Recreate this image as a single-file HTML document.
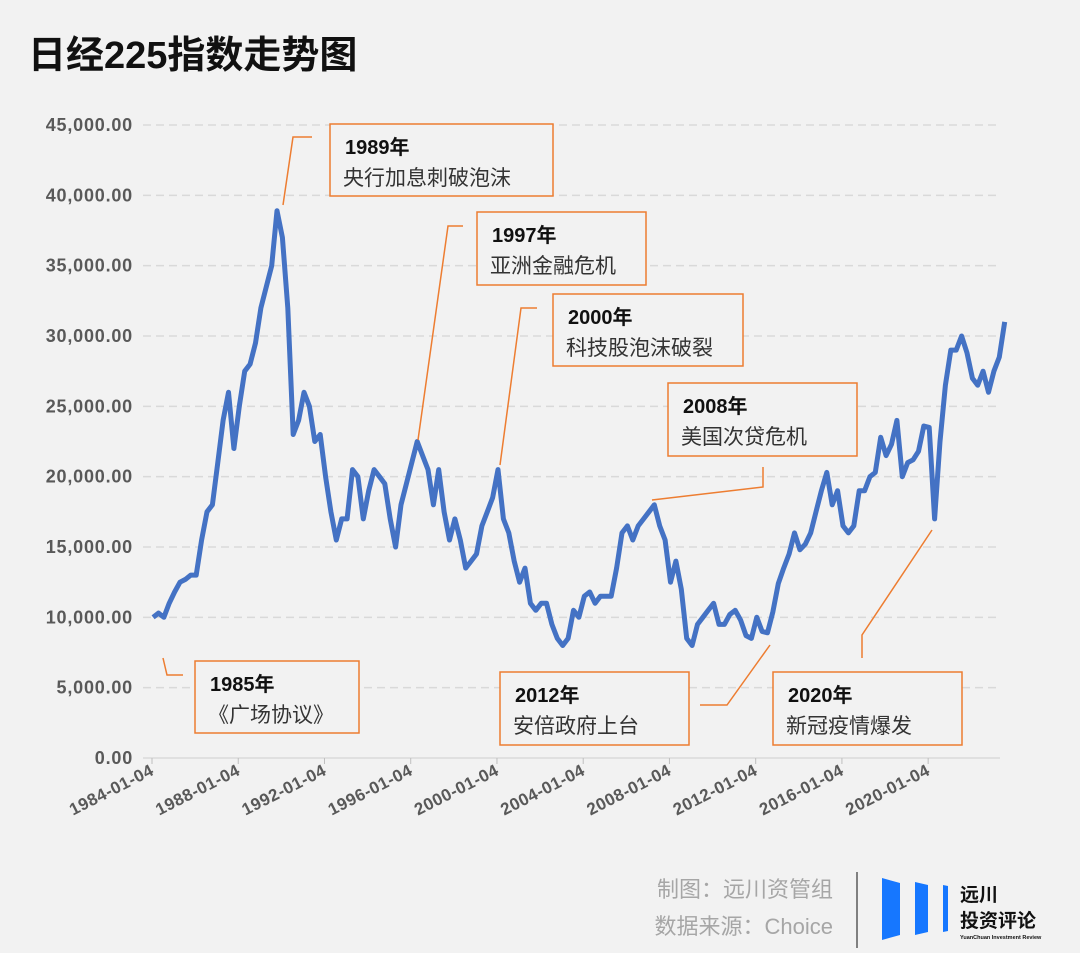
<!DOCTYPE html>
<html><head><meta charset="utf-8">
<style>
body{margin:0;background:#f2f2f2;}
#wrap{position:relative;width:1080px;height:953px;background:#f2f2f2;overflow:hidden;font-family:"Liberation Sans","Noto Sans CJK SC",sans-serif;}
#title{position:absolute;left:28px;top:24px;font-size:38px;font-weight:bold;color:#111;letter-spacing:0px;}
.src{position:absolute;right:247px;font-size:22px;color:#a6a6a6;white-space:nowrap;}
</style></head>
<body>
<div id="wrap">
<div id="title">日经225指数走势图</div>
<svg id="chart" width="1080" height="953" style="position:absolute;left:0;top:0"></svg>
<div class="src" style="top:872px">制图：远川资管组</div>
<div class="src" style="top:909px">数据来源：Choice</div>
<div style="position:absolute;left:856px;top:872px;width:2px;height:76px;background:#808080"></div>
<svg style="position:absolute;left:880px;top:875px" width="200" height="70">
<polygon points="2,3 20,8 20,60 2,65" fill="#1677ff"/>
<polygon points="35,7 48,10 48,57 35,60" fill="#1677ff"/>
<polygon points="63,10 68,11 68,56 63,57" fill="#1677ff"/>
<text x="80" y="26" font-size="19" font-weight="bold" fill="#111" font-family="Liberation Sans, Noto Sans CJK SC, sans-serif">远川</text>
<text x="80" y="52" font-size="19" font-weight="bold" fill="#111" font-family="Liberation Sans, Noto Sans CJK SC, sans-serif">投资评论</text>
<text x="80" y="64" font-size="5.5" font-weight="bold" fill="#111" font-family="Liberation Sans, sans-serif">YuanChuan Investment Review</text>
</svg>
</div>
<script>
const yTicks=[0,5000,10000,15000,20000,25000,30000,35000,40000,45000];
const xTickYears=[1984,1988,1992,1996,2000,2004,2008,2012,2016,2020];
const startYear=1984;
const values=[
10000,10300,10000,11000,
11800,12500,12700,13000,
13000,15500,17500,18000,
21000,24000,26000,22000,
25000,27500,28000,29500,
32000,33500,35000,38900,
37000,32000,23000,24000,
26000,25000,22500,23000,
20000,17500,15500,17000,
17000,20500,20000,17000,
19000,20500,20000,19500,
17000,15000,18000,19500,
21000,22500,21500,20500,
18000,20500,17500,15500,
17000,15500,13500,14000,
14500,16500,17500,18500,
20500,17000,16000,14000,
12500,13500,11000,10500,
11000,11000,9500,8500,
8000,8500,10500,10000,
11500,11800,11000,11500,
11500,11500,13500,16000,
16500,15500,16500,17000,
17500,18000,16500,15500,
12500,14000,12000,8500,
8000,9500,10000,10500,
11000,9500,9500,10200,
10500,9800,8700,8500,
10000,9000,8900,10400,
12400,13500,14500,16000,
14800,15200,16000,17500,
19000,20300,18000,19000,
16500,16000,16500,19000,
19000,20000,20300,22800,
21500,22300,24000,20000,
21000,21200,21800,23600,
23500,17000,22500,26500,
29000,29000,30000,28800,
27000,26500,27500,26000,
27500,28500,31000];
const annYears=["1989年","1997年","2000年","2008年","1985年","2012年","2020年"];
const annTexts=["央行加息刺破泡沫","亚洲金融危机","科技股泡沫破裂","美国次贷危机","《广场协议》","安倍政府上台","新冠疫情爆发"];
const NS="http://www.w3.org/2000/svg";
const svg=document.getElementById('chart');
const y0=758,yPer=(758-125)/45000;
const ys=v=>y0-v*yPer;
const xs=yr=>152+(yr-startYear)*21.56;
function mk(t,a){const e=document.createElementNS(NS,t);for(const k in a)e.setAttribute(k,a[k]);svg.appendChild(e);return e;}
yTicks.forEach(v=>{
 if(v>0){const g=mk('line',{x1:143,x2:1000,y1:ys(v),y2:ys(v),stroke:'#d9d9d9','stroke-width':1.5,'stroke-dasharray':'8,5'});
 
 }
 const t=mk('text',{x:133,y:ys(v)+6,'text-anchor':'end','font-size':18,'letter-spacing':0.8,'font-weight':'bold',fill:'#595959','font-family':'Liberation Sans, sans-serif'});
 t.textContent=v.toLocaleString('en-US',{minimumFractionDigits:2});
 
 
});
const ax=mk('line',{x1:143,x2:1000,y1:y0,y2:y0,stroke:'#d9d9d9','stroke-width':1.5});


xTickYears.forEach(yr=>{
 const x=xs(yr);
 const tk=mk('line',{x1:x,x2:x,y1:y0,y2:y0+6,stroke:'#bfbfbf','stroke-width':1});
 
 
 const t=mk('text',{x:x+3,y:y0+16,'text-anchor':'end','font-size':17,'letter-spacing':0.5,'font-weight':'bold',fill:'#595959','font-family':'Liberation Sans, sans-serif',transform:`rotate(-27 ${x+3} ${y0+16})`});
 t.textContent=yr+'-01-04';
 
 
});
let d='';values.forEach((v,i)=>{d+=(i?'L':'M')+xs(startYear+0.05+i*0.25).toFixed(1)+','+ys(v).toFixed(1);});
const p=mk('path',{d:d,fill:'none',stroke:'#4472c4','stroke-width':5,'stroke-linejoin':'round'});


const boxes=[[330,124,223,72],[477,212,169,73],[553,294,190,72],[668,383,189,73],[195,661,164,72],[500,672,189,73],[773,672,189,73]];
const leaders=["283,205 293,137 312,137","418,440 448,226 463,226","500,465 521,308 537,308","652,500 763,487 763,467","163,658 167,675 183,675","770,645 727,705 700,705","932,530 862,635 862,658"];
boxes.forEach((b,i)=>{
 const l=mk('polyline',{points:leaders[i],fill:'none',stroke:'#ed7d31','stroke-width':1.5});
 
 
 const r=mk('rect',{x:b[0],y:b[1],width:b[2],height:b[3],fill:'#f2f2f2',stroke:'#ed7d31','stroke-width':1.5});
 
 
 const t1=mk('text',{x:b[0]+15,y:b[1]+30,'font-size':20,'font-weight':'bold',fill:'#111','font-family':'Liberation Sans, Noto Sans CJK SC, sans-serif'});
 t1.textContent=annYears[i];
 
 
 const t2=mk('text',{x:b[0]+13,y:b[1]+61,'font-size':21,fill:'#333','font-family':'Liberation Sans, Noto Sans CJK SC, sans-serif'});
 t2.textContent=annTexts[i];
 
 
});
</script>
</body></html>
